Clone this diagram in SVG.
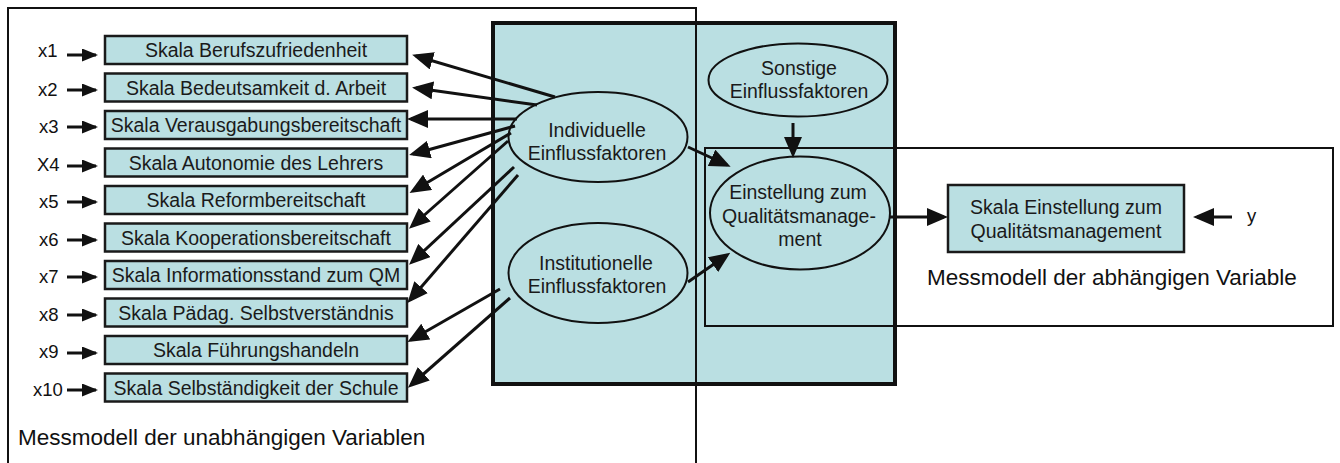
<svg xmlns="http://www.w3.org/2000/svg" width="1340" height="463" viewBox="0 0 1340 463">
  <style>
    .frame { fill: none; stroke: #111; stroke-width: 2; }
    .panel { fill: #BADFE2; }
    .panel-border { fill: none; stroke: #111; stroke-width: 4; }
    .box { fill: #BADFE2; stroke: #1a1a1a; stroke-width: 2.5; }
    .ell { fill: #BADFE2; stroke: #111; stroke-width: 2; }
    .t { font-family: "Liberation Sans", Arial, sans-serif; font-size: 19.5px; fill: #1a1a1a; text-anchor: middle; }
    .lbl { font-family: "Liberation Sans", Arial, sans-serif; font-size: 18.5px; fill: #111; }
    .cap { font-family: "Liberation Sans", Arial, sans-serif; font-size: 22.5px; fill: #111; }
    .c { stroke: #111; stroke-width: 3; fill: none; }
  </style>
  <defs>
    <marker id="ah" markerUnits="userSpaceOnUse" markerWidth="21" markerHeight="18" refX="17" refY="9" orient="auto">
      <path d="M0,0 L21,9 L0,18 z" fill="#111"/>
    </marker>
    <marker id="ahs" markerUnits="userSpaceOnUse" markerWidth="16" markerHeight="13" refX="14" refY="6.5" orient="auto">
      <path d="M0,0 L16,6.5 L0,13 z" fill="#111"/>
    </marker>
  </defs>

  <!-- structural model panel (fill) -->
  <rect class="panel" x="493" y="23" width="402" height="361"/>

  <!-- measurement model frames -->
  <g id="frame-independent">
    <path class="frame" d="M8,464 V8 H696 V464"/>
    <text class="cap" x="18" y="445">Messmodell der unabhängigen Variablen</text>
  </g>
  <g id="frame-dependent">
    <rect class="frame" x="705" y="148" width="628" height="178"/>
    <text class="cap" x="927" y="285">Messmodell der abhängigen Variable</text>
  </g>

  <!-- structural model panel (border) -->
  <rect class="panel-border" x="493" y="23" width="402" height="361"/>

  <!-- indicator scales -->
  <g id="scale-1"><rect class="box" x="105" y="36" width="302" height="28"/><text class="t" x="256" y="57">Skala Berufszufriedenheit</text></g>
  <g id="scale-2"><rect class="box" x="105" y="73.5" width="302" height="28"/><text class="t" x="256" y="94.5">Skala Bedeutsamkeit d. Arbeit</text></g>
  <g id="scale-3"><rect class="box" x="105" y="111" width="302" height="28"/><text class="t" x="256" y="132">Skala Verausgabungsbereitschaft</text></g>
  <g id="scale-4"><rect class="box" x="105" y="148.5" width="302" height="28"/><text class="t" x="256" y="169.5">Skala Autonomie des Lehrers</text></g>
  <g id="scale-5"><rect class="box" x="105" y="186" width="302" height="28"/><text class="t" x="256" y="207">Skala Reformbereitschaft</text></g>
  <g id="scale-6"><rect class="box" x="105" y="223.5" width="302" height="28"/><text class="t" x="256" y="244.5">Skala Kooperationsbereitschaft</text></g>
  <g id="scale-7"><rect class="box" x="105" y="261" width="302" height="28"/><text class="t" x="256" y="282">Skala Informationsstand zum QM</text></g>
  <g id="scale-8"><rect class="box" x="105" y="298.5" width="302" height="28"/><text class="t" x="256" y="319.5">Skala Pädag. Selbstverständnis</text></g>
  <g id="scale-9"><rect class="box" x="105" y="336" width="302" height="28"/><text class="t" x="256" y="357">Skala Führungshandeln</text></g>
  <g id="scale-10"><rect class="box" x="105" y="373.5" width="302" height="28"/><text class="t" x="256" y="394.5">Skala Selbständigkeit der Schule</text></g>

  <!-- error terms -->
  <g id="error-labels">
    <text class="lbl" x="38" y="57">x1</text>
    <text class="lbl" x="38" y="96">x2</text>
    <text class="lbl" x="39" y="133">x3</text>
    <text class="lbl" x="37" y="171">X4</text>
    <text class="lbl" x="39" y="208">x5</text>
    <text class="lbl" x="39" y="246">x6</text>
    <text class="lbl" x="39" y="283">x7</text>
    <text class="lbl" x="39" y="321">x8</text>
    <text class="lbl" x="39" y="358">x9</text>
    <text class="lbl" x="33" y="396">x10</text>
    <text class="lbl" x="1247" y="222">y</text>
  </g>

  <!-- latent factors -->
  <g id="individuelle">
    <ellipse class="ell" cx="598" cy="137" rx="89.5" ry="45"/>
    <text class="t" x="597" y="137">Individuelle</text>
    <text class="t" x="597" y="160">Einflussfaktoren</text>
  </g>
  <g id="institutionelle">
    <ellipse class="ell" cx="598" cy="273" rx="89.5" ry="50"/>
    <text class="t" x="596" y="270">Institutionelle</text>
    <text class="t" x="597" y="293">Einflussfaktoren</text>
  </g>
  <g id="sonstige">
    <ellipse class="ell" cx="798" cy="80" rx="89.5" ry="36.5"/>
    <text class="t" x="799" y="75">Sonstige</text>
    <text class="t" x="799" y="98">Einflussfaktoren</text>
  </g>
  <g id="einstellung">
    <ellipse class="ell" cx="800" cy="213" rx="90" ry="56.5"/>
    <text class="t" x="798" y="199">Einstellung zum</text>
    <text class="t" x="799" y="223">Qualitätsmanage-</text>
    <text class="t" x="800" y="246">ment</text>
  </g>
  <g id="scale-qm">
    <rect class="box" x="948" y="185" width="236" height="67"/>
    <text class="t" x="1066" y="214">Skala Einstellung zum</text>
    <text class="t" x="1066" y="238">Qualitätsmanagement</text>
  </g>

  <!-- connectors -->
  <g id="connectors">
    <!-- error arrows -->
    <line class="c" x1="67" y1="55" x2="96" y2="55" marker-end="url(#ahs)"/>
    <line class="c" x1="67" y1="90" x2="96" y2="90" marker-end="url(#ahs)"/>
    <line class="c" x1="67" y1="127" x2="96" y2="127" marker-end="url(#ahs)"/>
    <line class="c" x1="67" y1="166" x2="96" y2="166" marker-end="url(#ahs)"/>
    <line class="c" x1="67" y1="202" x2="96" y2="202" marker-end="url(#ahs)"/>
    <line class="c" x1="67" y1="240" x2="96" y2="240" marker-end="url(#ahs)"/>
    <line class="c" x1="67" y1="277" x2="96" y2="277" marker-end="url(#ahs)"/>
    <line class="c" x1="67" y1="315" x2="96" y2="315" marker-end="url(#ahs)"/>
    <line class="c" x1="67" y1="353" x2="96" y2="353" marker-end="url(#ahs)"/>
    <line class="c" x1="67" y1="390" x2="96" y2="390" marker-end="url(#ahs)"/>
    <line class="c" x1="1232" y1="217" x2="1197" y2="217" marker-end="url(#ah)"/>

    <!-- individual factors to scales -->
    <line class="c" x1="555" y1="97" x2="416" y2="56" marker-end="url(#ah)"/>
    <line class="c" x1="537" y1="105" x2="416" y2="88" marker-end="url(#ah)"/>
    <line class="c" x1="517" y1="119" x2="411" y2="119" marker-end="url(#ah)"/>
    <line class="c" x1="515" y1="126" x2="413" y2="154" marker-end="url(#ah)"/>
    <line class="c" x1="511" y1="133" x2="413" y2="191" marker-end="url(#ah)"/>
    <line class="c" x1="508" y1="141" x2="412" y2="226" marker-end="url(#ah)"/>
    <line class="c" x1="514" y1="167" x2="412" y2="262" marker-end="url(#ah)"/>
    <line class="c" x1="518" y1="175" x2="410" y2="300" marker-end="url(#ah)"/>

    <!-- institutional factors to scales -->
    <line class="c" x1="500" y1="289" x2="411" y2="340" marker-end="url(#ah)"/>
    <line class="c" x1="510" y1="298" x2="411" y2="385" marker-end="url(#ah)"/>

    <!-- structural paths -->
    <line class="c" x1="688" y1="147" x2="727" y2="165" marker-end="url(#ah)"/>
    <line class="c" x1="688" y1="282" x2="727" y2="255" marker-end="url(#ah)"/>
    <line class="c" x1="793" y1="123" x2="793" y2="154" marker-end="url(#ah)"/>
    <line class="c" x1="890" y1="217" x2="944" y2="217" marker-end="url(#ah)"/>
  </g>
</svg>
